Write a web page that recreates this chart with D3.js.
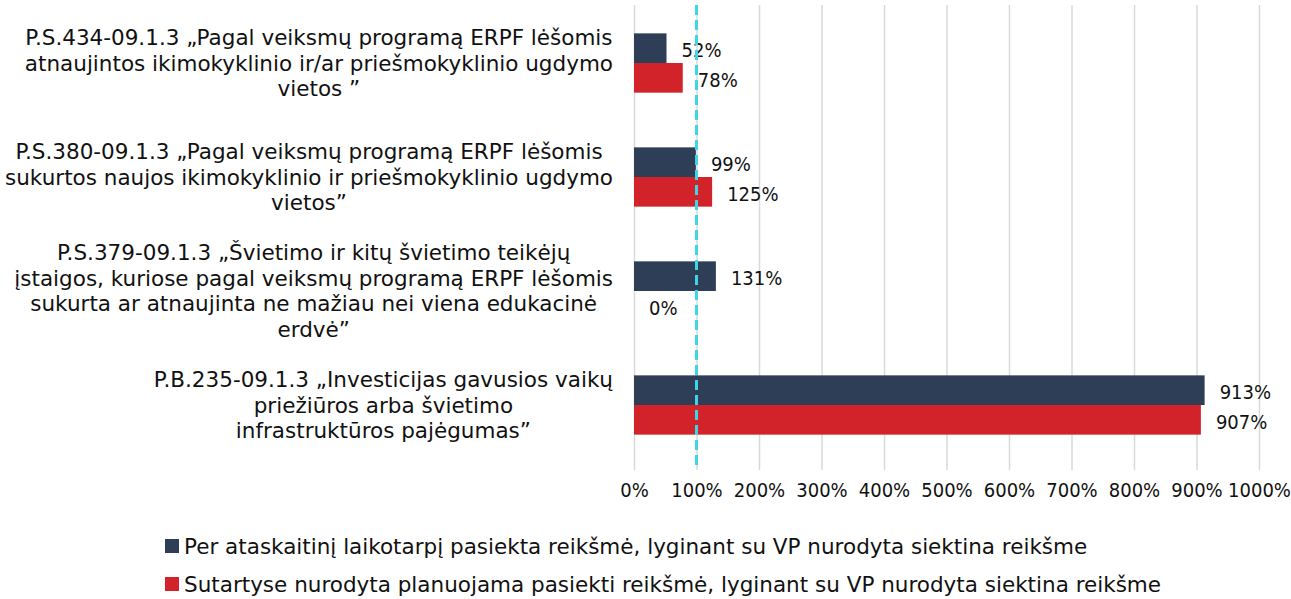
<!DOCTYPE html>
<html>
<head>
<meta charset="utf-8">
<script src="https://cdn.jsdelivr.net/npm/d3@7"></script>
<style>
  body { margin: 0; background: #fff; }
  text { font-family: "DejaVu Sans", sans-serif; fill: #111; }
  .num { font-family: "DejaVu Sans Condensed", "DejaVu Sans", sans-serif; }
</style>
</head>
<body>
<div id="chart"></div>
<script>
// Category labels (line breaks as in the original)
const categories = [
  "P.S.434-09.1.3  „Pagal veiksmų programą ERPF lėšomis\natnaujintos ikimokyklinio ir/ar priešmokyklinio ugdymo\nvietos ”",
  "P.S.380-09.1.3 „Pagal veiksmų programą ERPF lėšomis\nsukurtos naujos ikimokyklinio ir priešmokyklinio ugdymo\nvietos”",
  "P.S.379-09.1.3 „Švietimo ir kitų švietimo teikėjų\nįstaigos, kuriose pagal veiksmų programą ERPF lėšomis\nsukurta ar atnaujinta ne mažiau nei viena edukacinė\nerdvė”",
  "P.B.235-09.1.3 „Investicijas gavusios vaikų\npriežiūros arba švietimo\ninfrastruktūros pajėgumas”"
];
// Series values, %
const achieved = [52, 99, 131, 913];
const planned = [78, 125, 0, 907];
const seriesNames = [
  "Per ataskaitinį laikotarpį pasiekta reikšmė, lyginant su VP nurodyta siektina reikšme",
  "Sutartyse nurodyta planuojama pasiekti reikšmė, lyginant su VP nurodyta siektina reikšme"
];
const xTicks = [0, 100, 200, 300, 400, 500, 600, 700, 800, 900, 1000];
const targetValue = 100;

let chart = {
  width: 1291,
  height: 599,
  left: 634,
  right: 1259,
  top: 5,
  bottom: 470,
  colors: ["#2e3e56", "#d2232a"]
};

let svg = d3.select("#chart").append("svg")
  .attr("width", chart.width)
  .attr("height", chart.height);

let x = d3.scaleLinear().domain([0, 1000]).range([chart.left, chart.right]);
let y = d3.scaleBand().domain(d3.range(categories.length)).range([6, 462])
  .paddingInner(0.48).paddingOuter(0.24);
let ySub = d3.scaleBand().domain([0, 1]).range([0, y.bandwidth()]);

// Gridlines + tick labels
let xAxis = d3.axisBottom(x)
  .tickValues(xTicks)
  .tickFormat(d => d + "%")
  .tickSize(-(chart.bottom - chart.top))
  .tickPadding(13);

let gx = svg.append("g")
  .attr("transform", `translate(0, ${chart.bottom})`)
  .call(xAxis);
gx.select(".domain").remove();
gx.selectAll(".tick line").attr("stroke", "#d9d9d9").attr("stroke-width", 1.5);
gx.selectAll(".tick text")
  .attr("class", "num")
  .attr("font-size", 20)
  .attr("fill", "#111");

// Bars
let rows = categories.map((c, i) => ({ i, values: [achieved[i], planned[i]] }));

let groups = svg.selectAll(".cat").data(rows).enter()
  .append("g")
  .attr("class", "cat")
  .attr("transform", d => `translate(0, ${y(d.i)})`);

groups.selectAll("rect").data(d => d.values).enter()
  .append("rect")
  .attr("x", x(0))
  .attr("y", (d, j) => ySub(j))
  .attr("width", d => x(d) - x(0))
  .attr("height", ySub.bandwidth())
  .attr("fill", (d, j) => chart.colors[j]);

groups.selectAll(".val").data(d => d.values).enter()
  .append("text")
  .attr("class", "val num")
  .attr("x", d => x(d) + 15)
  .attr("y", (d, j) => ySub(j) + ySub.bandwidth() / 2 + 2)
  .attr("dy", "0.35em")
  .attr("font-size", 20)
  .text(d => d + "%");

// Target line at 100%
svg.append("line")
  .attr("x1", x(targetValue)).attr("x2", x(targetValue))
  .attr("y1", chart.top).attr("y2", chart.bottom)
  .attr("stroke", "#3ed6e6")
  .attr("stroke-width", 3)
  .attr("stroke-dasharray", "10,5");

// Category labels: block right-aligned to the axis, lines centred in the block
let labelRight = 613;
categories.forEach((c, i) => {
  let lines = c.split("\n");
  let g = svg.append("g");
  let lineH = 25.5;
  let cy = y(i) + y.bandwidth() / 2;
  let texts = g.selectAll("text").data(lines).enter()
    .append("text")
    .attr("font-size", 21.5)
    .attr("text-anchor", "middle")
    .attr("y", (d, k) => cy + (k - (lines.length - 1) / 2) * lineH)
    .attr("dy", "0.35em")
    .text(d => d);
  let maxW = d3.max(texts.nodes(), n => n.getComputedTextLength());
  texts.attr("x", labelRight - maxW / 2);
});

// Legend
let legend = svg.selectAll(".legend").data(seriesNames).enter()
  .append("g")
  .attr("class", "legend")
  .attr("transform", (d, i) => `translate(165, ${546 + i * 38})`);

legend.append("rect")
  .attr("x", 0).attr("y", -7)
  .attr("width", 14).attr("height", 14)
  .attr("fill", (d, i) => chart.colors[i]);

legend.append("text")
  .attr("x", 19)
  .attr("dy", "0.35em")
  .attr("font-size", 21.5)
  .text(d => d);
</script>
</body>
</html>
